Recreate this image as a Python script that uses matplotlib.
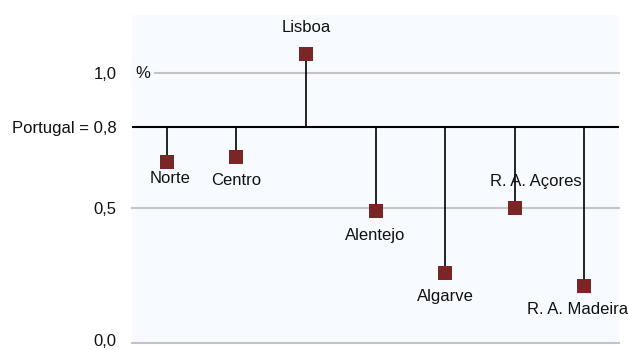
import matplotlib
matplotlib.use("Agg")
import matplotlib.pyplot as plt
import matplotlib.transforms as mtransforms

regions = ["Norte", "Centro", "Lisboa", "Alentejo", "Algarve", "R. A. Açores", "R. A. Madeira"]
values = [0.67, 0.69, 1.07, 0.49, 0.26, 0.50, 0.21]
portugal = 0.8
ytick_vals = [0.0, 0.5, 1.0]
ytick_labels = ["0,0", "0,5", "1,0"]
base_label = "Portugal = 0,8"

# label offsets in points (layout only)
label_offsets = [(2, -12), (0, -17), (0, 19), (0, -18), (0, -17), (15, 19), (-5, -17)]

plt.rcParams['font.family'] = ['Liberation Sans', 'DejaVu Sans']
FS = 12
fig = plt.figure(figsize=(6.28, 3.5), dpi=100)
ax = fig.add_axes([132/628, 7/350, (619-132)/628, (343-15)/350])
ax.set_facecolor('#f7faff')
ax.set_xlim(-0.5, len(regions) - 0.5)
ax.set_ylim(0, 1.215)

for y in ytick_vals:
    ax.axhline(y, color='#c4c4c4', lw=1.5, zorder=1, clip_on=False)
ax.axhline(portugal, color='black', lw=1.5, zorder=2)

xs = range(len(regions))
for x, v in zip(xs, values):
    ax.plot([x, x], [portugal, v], color='black', lw=1.2, zorder=3)
ax.scatter(list(xs), values, marker='s', s=110, color='#7b2526', zorder=4, linewidths=0)

for x, v, name, off in zip(xs, values, regions, label_offsets):
    ax.annotate(name, (x, v), xytext=off, textcoords='offset points',
                ha='center', va='center', fontsize=FS, color='#111111', zorder=5)

for s in ax.spines.values():
    s.set_visible(False)
ax.set_xticks([])
ax.set_yticks(ytick_vals + [portugal])
ax.set_yticklabels(ytick_labels + [base_label], fontsize=FS, color='#111111')
ax.tick_params(axis='y', length=0, pad=11)
for lbl in ax.get_yticklabels():
    if lbl.get_text() == "0,0":
        lbl.set_transform(lbl.get_transform() +
                          mtransforms.ScaledTranslation(0, 2/72, fig.dpi_scale_trans))
ax.text(-0.5 + 3/69.5, 1.0, "%", fontsize=FS,
        ha='left', va='center', color='#111111', zorder=6,
        bbox=dict(facecolor='#f7faff', edgecolor='none', pad=3))

fig.savefig("out.png", dpi=100, facecolor='white')
